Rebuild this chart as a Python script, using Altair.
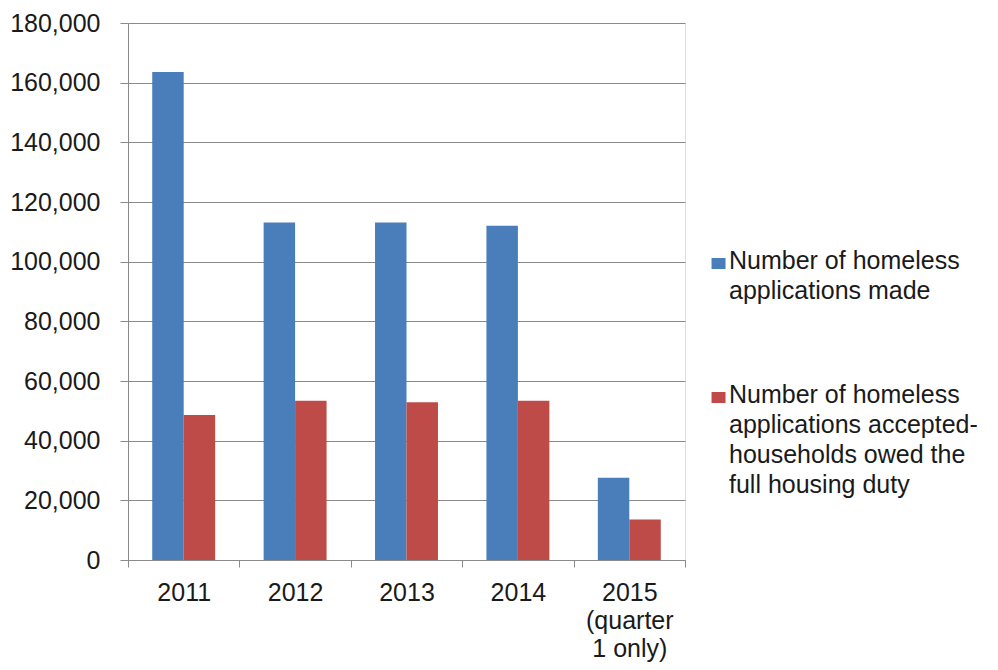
import altair as alt
import pandas as pd

years = ["2011", "2012", "2013", "2014", "2015|(quarter|1 only)"]
series = [
    "Number of homeless|applications made",
    "Number of homeless|applications accepted-|households owed the|full housing duty",
]
applications_made = [163600, 113100, 113100, 112000, 27600]
applications_accepted = [48600, 53400, 52900, 53400, 13600]
colors = ["#4A7EBB", "#BE4B48"]
y_ticks = [0, 20000, 40000, 60000, 80000, 100000, 120000, 140000, 160000, 180000]

rows = []
for i, yr in enumerate(years):
    rows.append({"year": yr, "series": series[0], "value": applications_made[i]})
    rows.append({"year": yr, "series": series[1], "value": applications_accepted[i]})
df = pd.DataFrame(rows)

FONT = "Liberation Sans"
GRAY = "#8a8a8a"
TXT = "#1a1a1a"

chart = (
    alt.Chart(df)
    .mark_bar()
    .encode(
        x=alt.X(
            "year:N",
            sort=years,
            scale=alt.Scale(paddingInner=0, paddingOuter=0),
            axis=alt.Axis(
                title=None,
                labelAngle=0,
                labelExpr="split(datum.label, '|')",
                labelLineHeight=28,
                labelBaseline="top",
                labelPadding=13,
                tickBand="extent",
                tickSize=7,
                tickColor=GRAY,
                domainColor=GRAY,
                grid=False,
                labelFont=FONT,
                labelFontSize=25,
                labelColor=TXT,
            ),
        ),
        xOffset=alt.XOffset(
            "series:N",
            sort=series,
            scale=alt.Scale(paddingInner=0, paddingOuter=0.77),
        ),
        y=alt.Y(
            "value:Q",
            scale=alt.Scale(domain=[0, 180000], nice=False),
            axis=alt.Axis(
                title=None,
                values=y_ticks,
                format=",d",
                tickSize=8,
                tickColor=GRAY,
                domainColor=GRAY,
                gridColor=GRAY,
                labelPadding=20,
                labelFont=FONT,
                labelFontSize=25,
                labelColor=TXT,
            ),
        ),
        color=alt.Color(
            "series:N",
            sort=series,
            scale=alt.Scale(domain=series, range=colors),
            legend=alt.Legend(
                title=None,
                orient="none",
                legendX=576,
                legendY=233,
                direction="vertical",
                labelExpr="split(datum.label, '|')",
                labelBaseline="alphabetic",
                labelFont=FONT,
                labelFontSize=25,
                labelColor=TXT,
                labelLimit=400,
                labelOffset=0,
                symbolType="M-0.71,-1.5H1.29V0.07H-0.71Z",
                symbolSize=196,
                symbolStrokeWidth=0,
                rowPadding=78,
                padding=0,
            ),
        ),
    )
    .properties(
        width=557,
        height=537,
        autosize=alt.AutoSizeParams(type="none"),
        padding={"left": 120, "top": 15, "right": 304, "bottom": 105},
    )
    .configure_view(stroke=None)
    .configure(background="white", style={"guide-label": {"lineHeight": 30}})
)

chart.save("out.html", embed_options={"renderer": "svg", "actions": False})
